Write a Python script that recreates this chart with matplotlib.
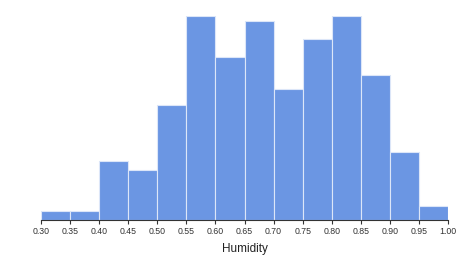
import numpy as np
import matplotlib
matplotlib.use("Agg")
import matplotlib.pyplot as plt

# histogram of humidity, 0.05-wide bins
bin_edges = [0.30, 0.35, 0.40, 0.45, 0.50, 0.55, 0.60, 0.65, 0.70,
             0.75, 0.80, 0.85, 0.90, 0.95, 1.00]
counts = [2, 2, 13, 11, 25.5, 45, 36, 44, 29, 40, 45, 32, 15, 3]
tick_labels = [f"{v:.2f}" for v in bin_edges]

BAR_COLOUR = "#6b96e3"
EDGE_COLOUR = "#dce6f8"

fig = plt.figure(figsize=(4.57, 2.57), dpi=100)
ax = fig.add_axes([40.7 / 457, 37 / 257, (448.3 - 40.7) / 457, (220 - 16.3) / 257])

lefts = np.array(bin_edges[:-1])
widths = np.diff(bin_edges)
ax.bar(lefts, counts, width=widths, align="edge",
       color=BAR_COLOUR, edgecolor=EDGE_COLOUR, linewidth=0.8)

ax.set_xlim(bin_edges[0], bin_edges[-1])
ax.set_ylim(0, max(counts))

ax.set_xticks(bin_edges)
ax.set_xticklabels(tick_labels, fontsize=6.3, color="#333333",
                   family="Liberation Sans")
ax.tick_params(axis="x", length=3, width=0.8, color="#333333", pad=2)
ax.set_yticks([])

for s in ["top", "right", "left"]:
    ax.spines[s].set_visible(False)
ax.spines["bottom"].set_color("#333333")
ax.spines["bottom"].set_linewidth(0.8)

ax.set_xlabel("Humidity", fontsize=8.5, color="#222222",
              family="Liberation Sans", labelpad=5)

fig.savefig("out.png", dpi=100)
